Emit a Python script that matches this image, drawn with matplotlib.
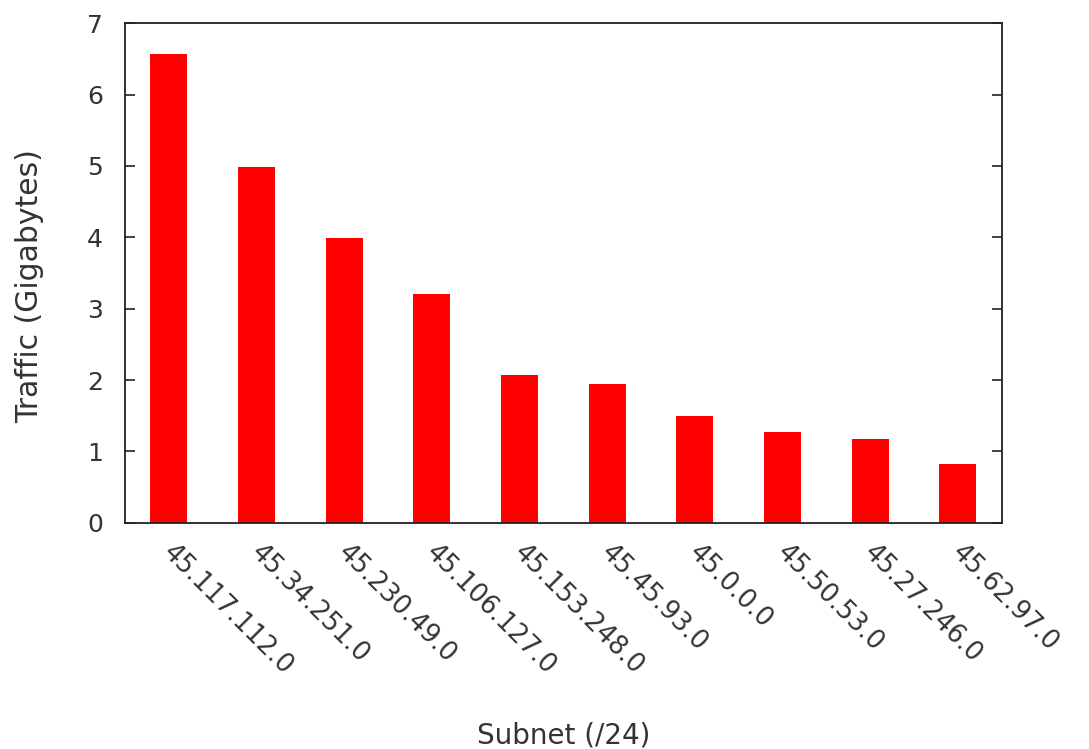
import matplotlib
matplotlib.use("Agg")
import matplotlib.pyplot as plt
import matplotlib.transforms as mtransforms
import numpy as np

subnets = ["45.117.112.0", "45.34.251.0", "45.230.49.0", "45.106.127.0",
           "45.153.248.0", "45.45.93.0", "45.0.0.0", "45.50.53.0",
           "45.27.246.0", "45.62.97.0"]
traffic_gb = [6.57, 4.99, 3.99, 3.21, 2.07, 1.95, 1.49, 1.27, 1.17, 0.83]
y_ticks = [0, 1, 2, 3, 4, 5, 6, 7]

text_color = "#333333"
plt.rcParams["font.family"] = ["DejaVu Sans"]

fig = plt.figure(figsize=(10.89, 7.49), dpi=100)
ax = fig.add_axes([0.1148, 0.3021, 0.8050, 0.6668])

x = np.arange(len(subnets))
ax.bar(x, traffic_gb, width=0.42, color="#ff0000", edgecolor="none")

ax.set_xlim(-0.5, len(subnets) - 0.5)
ax.set_ylim(0, 7)
ax.set_yticks(y_ticks)
ax.set_yticklabels([str(t) for t in y_ticks])
ax.set_xticks(x)
ax.set_xticklabels(subnets, rotation=-45, ha="left", va="top",
                   rotation_mode="anchor")

ax.tick_params(axis="y", direction="in", length=7, width=1.2, right=True,
               labelsize=18, labelcolor=text_color, pad=16, color="#222222")
ax.tick_params(axis="x", length=0, labelsize=18.5, labelcolor=text_color, pad=12)

# nudge the slanted subnet labels a little to the right
shift = mtransforms.ScaledTranslation(7 / 100, 0, fig.dpi_scale_trans)
for lbl in ax.get_xticklabels():
    lbl.set_transform(lbl.get_transform() + shift)

for sp in ax.spines.values():
    sp.set_linewidth(1.3)
    sp.set_color("#222222")

ax.set_ylabel("Traffic (Gigabytes)", fontsize=21.5, color=text_color,
              va="center")
ax.yaxis.set_label_coords(-0.109, 0.474)
ax.set_xlabel("Subnet (/24)", fontsize=20, color=text_color, labelpad=30)

fig.savefig("out.png", dpi=100)
